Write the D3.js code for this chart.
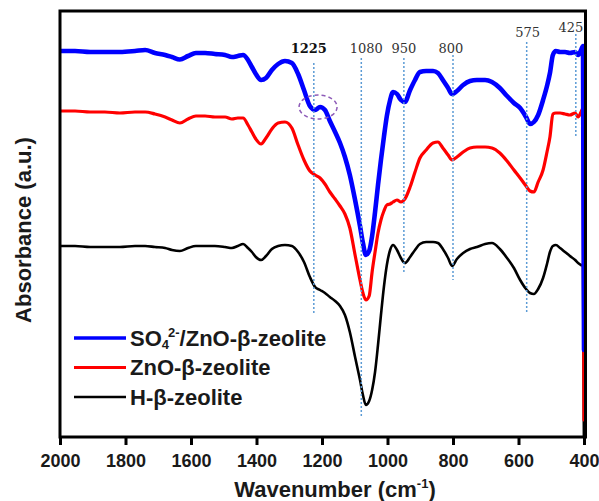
<!DOCTYPE html>
<html>
<head>
<meta charset="utf-8">
<script src="https://cdn.jsdelivr.net/npm/d3@7"></script>
<style>
  body { margin: 0; background: #fff; }
  svg { display: block; }
</style>
</head>
<body>
<svg id="chart" width="599" height="501"></svg>
<script>
// FT-IR spectra, wavenumber in cm^-1 (descending), absorbance in arbitrary units (offset stack)
const wavenumbers = [2000,1954,1908,1863,1817,1771,1740,1710,1679,1658,
  1634,1609,1585,1557,1527,1496,1475,1457,1441,1426,
  1414,1402,1386,1371,1353,1334,1313,1292,1273,1255,
  1237,1221,1206,1191,1176,1160,1145,1130,1115,1099,
  1084,1075,1066,1056,1047,1038,1029,1020,1011,1002,
  992,983,971,959,947,931,916,901,882,861,
  846,831,815,803,788,769,748,727,702,681,
  657,635,614,595,577,565,553,540,525,513,
  504,495,486,473,458,443,427,418,409,403,
  400];

const so4ZnOBeta = [386,386,385,385,385,386,387,384,382,380,
  377.5,381,384,384,383,382,380,381,382,377,
  370,363,357,359,367,373,376,374,363,347,
  331,327,330,327,316,305,294,280,262,237,
  211,194,182,186,201,225,252,277,300,321,
  337,345,343,337,335,347,357,365,366,366,
  364,357,349,343,346,352,356,357,357,355,
  349,341,334,329,320,313,315,322,337,351,
  364,382,386,385,385,384,385,382,387,391,
  87];

const znoBeta = [326,326,325,325,324,325,325,323,320,317,
  314,318,321,321,320,320,318,319,319,312,
  305,298,293,299,308,314,315,309,292,277,
  266,262,259,253,245,238,231,223,209,182,
  157,144,137,141,165,185,204,217,226,232,
  233,235,237,235,238,250,265,279,287,294,
  295,289,282,277,280,285,289,290,290,289,
  284,276,267,259,251,246,245,255,267,285,
  300,323,324,324,323,322,324,320,325,329,
  17];

const hBeta = [191,191,190,190,190,191,191,190,189,187,
  186,189,191,191,191,190,189,191,193,189,
  185,180,177,181,188,191,192,191,185,175,
  160,150,147,144,140,136,131,122,105,80,
  57,42,32,36,47,65,92,122,150,172,
  187,192,187,179,174,180,187,193,195,195,
  194,188,179,171,178,184,188,190,193,194,
  188,179,169,157,148,144,143,148,159,173,
  185,191,192,189,185,181,177,174,172,171,
  -20];

const xTicks = [2000, 1800, 1600, 1400, 1200, 1000, 800, 600, 400];
const peakLabels = ["1225", "1080", "950", "800", "575", "425"];
const seriesNames = ["H-β-zeolite", "ZnO-β-zeolite", "SO4/ZnO-β-zeolite"];

// ---- layout ----
const plot = { left: 60, right: 584, top: 11, bottom: 437 };
const sans = "'Liberation Sans', Arial, sans-serif";

const x = d3.scaleLinear().domain([2000, 400]).range([plot.left, plot.right]);
const y = d3.scaleLinear().domain([0, 426]).range([plot.bottom, plot.top]);

const svg = d3.select("#chart");

svg.append("defs").append("clipPath").attr("id", "plot-clip")
  .append("rect")
  .attr("x", plot.left).attr("y", plot.top)
  .attr("width", plot.right - plot.left + 1).attr("height", plot.bottom - plot.top);

// series drawn back to front
const series = [
  { name: seriesNames[0], values: hBeta, color: "#000000", width: 2.6 },
  { name: seriesNames[1], values: znoBeta, color: "#ff0000", width: 3.2 },
  { name: seriesNames[2], values: so4ZnOBeta, color: "#0000ff", width: 4.6 }
];

const line = d3.line()
  .x(d => x(d[0]))
  .y(d => y(d[1]))
  .curve(d3.curveMonotoneX);

const curves = svg.append("g").attr("clip-path", "url(#plot-clip)");
series.forEach(s => {
  curves.append("path")
    .datum(wavenumbers.map((w, i) => [w, s.values[i]]))
    .attr("d", line)
    .attr("fill", "none")
    .attr("stroke", s.color)
    .attr("stroke-width", s.width)
    .attr("stroke-linejoin", "round")
    .attr("stroke-linecap", "round");
});

// peak markers: dotted guides with the band positions written above them
const peakGuides = [
  { top: 374, bottom: 124, text: 384, dx: -5, bold: true },
  { top: 379, bottom: 19,  text: 384, dx: 5 },
  { top: 379, bottom: 165, text: 384, dx: 0 },
  { top: 382, bottom: 157, text: 384, dx: -2 },
  { top: 395, bottom: 124, text: 400, dx: 1 },
  { top: 403, bottom: 299, text: 405, dx: -5 }
];

const peaks = svg.append("g");
peakLabels.forEach((lab, i) => {
  const wn = +lab, g = peakGuides[i];
  peaks.append("line")
    .attr("x1", x(wn)).attr("x2", x(wn))
    .attr("y1", y(g.top)).attr("y2", y(g.bottom))
    .attr("stroke", "#5b9bd5")
    .attr("stroke-width", 1.5)
    .attr("stroke-dasharray", "2,2");
  peaks.append("text")
    .attr("x", x(wn) + g.dx)
    .attr("y", y(g.text))
    .attr("text-anchor", "middle")
    .attr("font-family", "'DejaVu Serif', serif")
    .attr("font-size", 13)
    .attr("font-weight", g.bold ? "bold" : "normal")
    .attr("fill", g.bold ? "#111" : "#333")
    .text(lab);
});

// dashed ring around the 1225 shoulder of the sulfated sample
svg.append("ellipse")
  .attr("cx", x(1212)).attr("cy", y(330))
  .attr("rx", 19).attr("ry", 12)
  .attr("fill", "none")
  .attr("stroke", "#8e5cb8")
  .attr("stroke-width", 1.5)
  .attr("stroke-dasharray", "4,3");

// frame
svg.append("rect")
  .attr("x", plot.left).attr("y", plot.top)
  .attr("width", plot.right - plot.left + 1.5)
  .attr("height", plot.bottom - plot.top)
  .attr("fill", "none")
  .attr("stroke", "#000")
  .attr("stroke-width", 3);

// bottom axis
const xAxis = d3.axisBottom(x)
  .tickValues(xTicks)
  .tickSize(8)
  .tickSizeOuter(0)
  .tickPadding(9)
  .tickFormat(d3.format("d"));

const axisG = svg.append("g")
  .attr("transform", `translate(0,${plot.bottom})`)
  .call(xAxis);
axisG.select(".domain").remove();
axisG.selectAll(".tick line").attr("stroke", "#000").attr("stroke-width", 3);
axisG.selectAll(".tick text")
  .attr("font-family", sans)
  .attr("font-size", 18)
  .attr("font-weight", "bold")
  .attr("fill", "#1a1a1a");

// axis titles
const xTitle = svg.append("text")
  .attr("x", 335).attr("y", 497)
  .attr("text-anchor", "middle")
  .attr("font-family", sans)
  .attr("font-size", 22)
  .attr("font-weight", "bold")
  .attr("fill", "#1a1a1a");
xTitle.append("tspan").text("Wavenumber (cm");
xTitle.append("tspan").attr("font-size", 13).attr("dy", -9).text("-1");
xTitle.append("tspan").attr("dy", 9).text(")");

svg.append("text")
  .attr("transform", "translate(31,230) rotate(-90)")
  .attr("text-anchor", "middle")
  .attr("font-family", sans)
  .attr("font-size", 22)
  .attr("font-weight", "bold")
  .attr("fill", "#1a1a1a")
  .text("Absorbance (a.u.)");

// legend, listed top to bottom
const legend = svg.append("g")
  .attr("font-family", sans)
  .attr("font-weight", "bold")
  .attr("fill", "#1a1a1a");
const legendRows = [series[2], series[1], series[0]];
legendRows.forEach((s, i) => {
  const ly = 338 + i * 29.5;
  legend.append("line")
    .attr("x1", 74).attr("x2", 126)
    .attr("y1", ly).attr("y2", ly)
    .attr("stroke", s.color)
    .attr("stroke-width", Math.min(s.width, 3.5));
  const t = legend.append("text")
    .attr("x", 130).attr("y", ly + 7.5)
    .attr("font-size", 22);
  if (s.name.startsWith("SO4")) {
    t.append("tspan").text("SO");
    t.append("tspan").attr("font-size", 13).attr("dy", 3).text("4");
    t.append("tspan").attr("font-size", 13).attr("dy", -12).attr("dx", -1).text("2-");
    t.append("tspan").attr("dy", 9).text(s.name.slice(3));
  } else {
    t.text(s.name);
  }
});
</script>
</body>
</html>
